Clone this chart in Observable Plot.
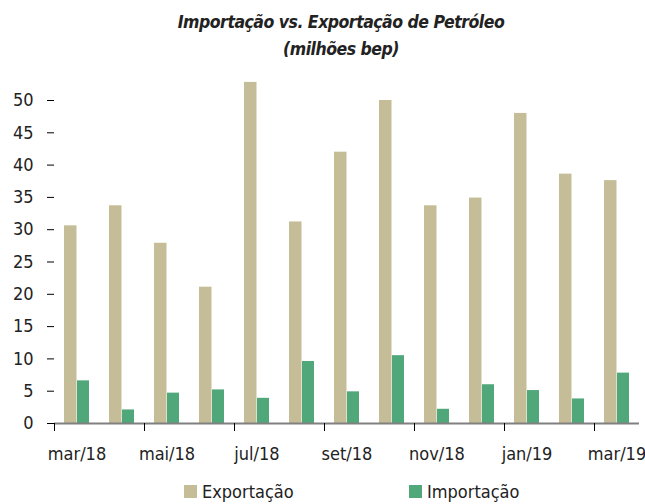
<!DOCTYPE html>
<html>
<head>
<meta charset="utf-8">
<script src="https://cdn.jsdelivr.net/npm/d3@7"></script>
<script src="https://cdn.jsdelivr.net/npm/@observablehq/plot@0.6"></script>
<style>
  body { margin: 0; background: #fff; }
  #wrap { position: relative; width: 645px; height: 504px; font-family: 'DejaVu Sans Condensed', 'DejaVu Sans', sans-serif; font-stretch: condensed; color: #222; }
  #title { position: absolute; left: 37px; width: 608px; top: 9px; text-align: center; font-weight: bold; font-style: italic; font-size: 17.5px; line-height: 27px; color: #222; letter-spacing: -0.5px; }
  #legend { position: absolute; top: 481px; left: 0; width: 645px; height: 24px; font-size: 18px; }
  .item { position: absolute; top: 0; display: flex; align-items: center; }
  .sw { width: 13px; height: 13px; margin-right: 5px; }
  svg { display: block; }
</style>
</head>
<body>
<div id="wrap">
  <div id="chart"></div>
  <div id="title">Importação vs. Exportação de Petróleo<br>(milhões bep)</div>
  <div id="legend"></div>
</div>
<script>
const months = ["mar/18","abr/18","mai/18","jun/18","jul/18","ago/18","set/18","out/18","nov/18","dez/18","jan/19","fev/19","mar/19"];
const exportacao = [30.6, 33.7, 27.9, 21.1, 52.8, 31.2, 42.0, 50.0, 33.7, 34.9, 48.0, 38.6, 37.6];
const importacao = [6.6, 2.1, 4.7, 5.2, 3.9, 9.6, 4.9, 10.5, 2.2, 6.0, 5.1, 3.8, 7.8];
const yTicks = [0, 5, 10, 15, 20, 25, 30, 35, 40, 45, 50];
const xTickLabels = ["mar/18","mai/18","jul/18","set/18","nov/18","jan/19","mar/19"];
const seriesNames = ["Exportação", "Importação"];
const seriesColors = ["#c5bd97", "#4fa77a"];

const rows = months.map((m, i) => ({month: m, exp: exportacao[i], imp: importacao[i]}));

const chart = Plot.plot({
  width: 645,
  height: 504,
  marginTop: 100,
  marginBottom: 81,
  marginLeft: 54,
  marginRight: 6,
  style: {fontFamily: "'DejaVu Sans Condensed', 'DejaVu Sans', sans-serif", fontStretch: "condensed", fontSize: "18px", color: "#222", background: "white", overflow: "visible"},
  x: {type: "band", domain: months, padding: 0},
  y: {domain: [0, 50]},
  marks: [
    Plot.barY(rows, {x: "month", y: "exp", fill: seriesColors[0], insetLeft: 10, insetRight: 22.5}),
    Plot.barY(rows, {x: "month", y: "imp", fill: seriesColors[1], insetLeft: 23, insetRight: 10}),
    Plot.ruleY([0], {stroke: "#808080", strokeWidth: 2}),
    Plot.axisY({ticks: yTicks, tickSize: 7, tickPadding: 14, line: true, stroke: "#000", label: null}),
    Plot.axisX({ticks: xTickLabels, tickSize: 0, tickPadding: 24, label: null}),
    Plot.axisX({ticks: xTickLabels, text: null, tickSize: 8, dx: -22.5, stroke: "#000", label: null})
  ]
});
document.getElementById("chart").appendChild(chart);

const legend = document.getElementById("legend");
const lx = [184, 409];
seriesNames.forEach((name, i) => {
  const it = document.createElement("div");
  it.className = "item";
  it.style.left = lx[i] + "px";
  it.innerHTML = `<span class="sw" style="background:${seriesColors[i]}"></span><span>${name}</span>`;
  legend.appendChild(it);
});
</script>
</body>
</html>
